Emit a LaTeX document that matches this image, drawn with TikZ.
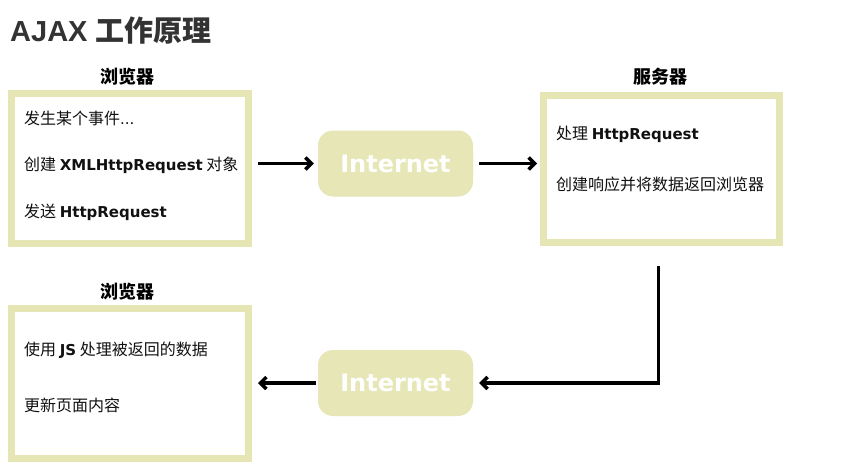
\documentclass[tikz,border=0pt]{standalone}
\usepackage{fontspec}
\setmainfont{Noto Sans CJK SC}
\newfontfamily\vfont{DejaVu Sans}
\newfontfamily\afont{Liberation Sans}
\newcommand\EN[1]{{\vfont\bfseries\fontsize{15}{18}\selectfont #1}}
\usetikzlibrary{arrows.meta}
\definecolor{bordc}{HTML}{E6E6B4}
\definecolor{inetc}{HTML}{E6E6B6}
\definecolor{titlec}{HTML}{333333}
\definecolor{txtc}{HTML}{111111}
\tikzset{
  panel/.style={draw=bordc, line width=7pt, fill=white, inner sep=0pt},
  inet/.style={fill=inetc, rounded corners=15pt, minimum width=155pt, minimum height=66pt, inner sep=0pt,
     text=white, font=\vfont\bfseries\fontsize{24}{28}\selectfont},
  head/.style={font=\bfseries\fontsize{18}{22}\selectfont, text=black, inner sep=0pt},
  item/.style={anchor=west, font=\fontsize{16}{19}\selectfont, text=txtc, inner sep=0pt},
  flow/.style={line width=3.5pt, -{Straight Barb[length=6pt,width=12pt]}},
}
\begin{document}
\begin{tikzpicture}[x=1pt,y=-1pt]
\useasboundingbox (0,0) rectangle (865,472);
\fill[white] (0,0) rectangle (865,472);

\node[anchor=west, inner sep=0pt, text=titlec] (title) at (10,31)
  {{\afont\bfseries\fontsize{29}{34}\selectfont AJAX }{\bfseries\fontsize{29}{34}\selectfont 工作原理}};

% top browser
\node[head] (h1) at (127,77) {浏览器};
\node[panel, minimum width=237pt, minimum height=150pt] (b1) at (130,168) {};
\node[item] (t11) at (24,118) {发生某个事件{\vfont\fontsize{15}{18}\selectfont...}};
\node[item] (t12) at (24,165) {创建 \EN{XMLHttpRequest} 对象};
\node[item] (t13) at (24,212) {发送 \EN{HttpRequest}};

% internet 1
\node[inet] (i1) at (395.5,163.5) {Internet};

% server
\node[head] (h2) at (660,77) {服务器};
\node[panel, minimum width=236pt, minimum height=147pt] (srv) at (661.5,169) {};
\node[item] (t21) at (556,134) {处理 \EN{HttpRequest}};
\node[item] (t22) at (556,184) {创建响应并将数据返回浏览器};

% bottom browser
\node[head] (h3) at (127,292) {浏览器};
\node[panel, minimum width=237pt, minimum height=150pt] (b3) at (130,383.5) {};
\node[item] (t31) at (24,350) {使用 \EN{JS} 处理被返回的数据};
\node[item] (t32) at (24,405) {更新页面内容};

% internet 2
\node[inet] (i2) at (395.5,383) {Internet};

% connectors
\draw[flow, shorten <=6pt, shorten >=4pt] (b1.east |- i1.west) -- (i1.west);
\draw[flow, shorten <=6pt, shorten >=3pt] (i1.east) -- (srv.west |- i1.east);
\draw[flow, shorten <=20pt, shorten >=6pt] ([xshift=-3pt]srv.south) |- (i2.east);
\draw[flow, shorten <=2pt, shorten >=6pt] (i2.west) -- (b3.east |- i2.west);
\end{tikzpicture}
\end{document}
